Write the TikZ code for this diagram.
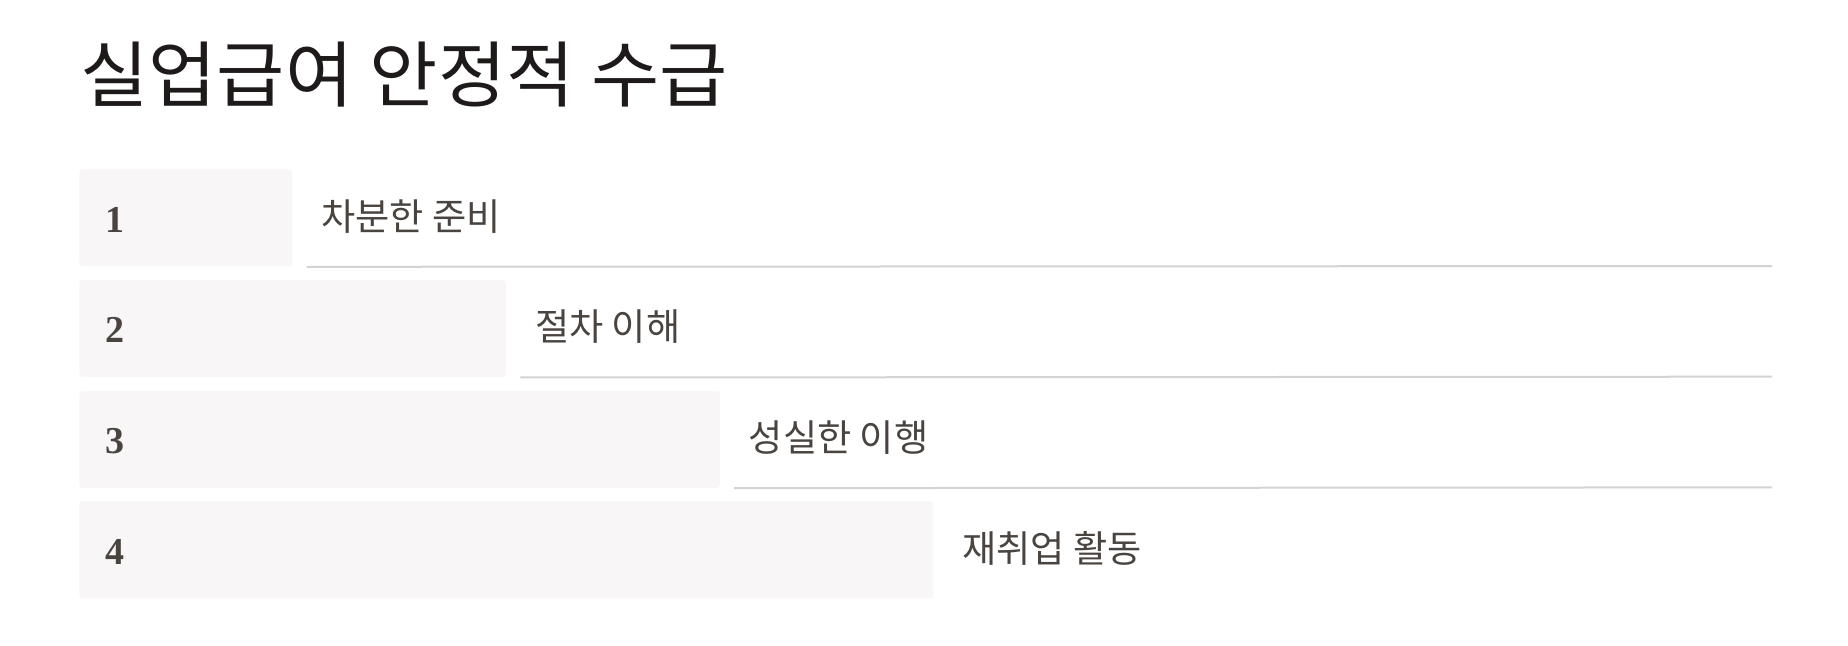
\documentclass[tikz,border=0pt]{standalone}
\usepackage{fontspec}
\setmainfont{Liberation Serif}
\newfontfamily\kr{Noto Sans CJK KR}
\newfontfamily\krtitle[FakeStretch=1.03]{Noto Sans CJK KR}
\definecolor{boxfill}{HTML}{F8F6F6}
\definecolor{txt}{HTML}{4A4440}
\definecolor{ttl}{HTML}{1E1A1A}
\definecolor{rule}{HTML}{D3D3D3}
\tikzset{
  stepbox/.style={fill=boxfill, draw=none, rounded corners=1.5pt, inner sep=0pt,
    minimum height=48.5pt, anchor=north west},
  numtxt/.style={anchor=base west, inner sep=0pt, text=txt, font=\fontsize{19}{19}\selectfont\bfseries},
  labtxt/.style={anchor=base west, inner sep=0pt, text=txt, font=\kr\fontsize{18.6}{18.6}\selectfont},
  ruleline/.style={draw=rule, line width=1pt}
}
\begin{document}
\begin{tikzpicture}[x=0.5pt,y=-0.5pt]
\useasboundingbox (0,0) rectangle (1848,645);
\node[anchor=base west, inner sep=0pt, text=ttl, font=\krtitle\fontsize{36}{36}\selectfont] (title) at (80,101) {실업급여 안정적 수급};
\foreach \i/\lab/\bw in {1/차분한 준비/106.5, 2/절차 이해/213.3, 3/성실한 이행/320.2, 4/재취업 활동/427} {
  \pgfmathsetmacro{\ty}{169+110.67*(\i-1)}
  \pgfmathsetmacro{\rgt}{79+2*\bw}
  \node[stepbox, minimum width=\bw pt] (box\i) at (79,\ty) {};
  \node[numtxt] (num\i) at (105,\ty+63) {\i};
  \node[labtxt] (lab\i) at (\rgt+29,\ty+61) {\lab};
}
\foreach \i in {1,2,3} {
  \pgfmathsetmacro{\by}{169+110.67*(\i-1)+97}
  \coordinate (ls\i) at ([xshift=7pt]box\i.south east);
  \coordinate (le\i) at (1772,\by);
  \draw[ruleline] (ls\i) -- (le\i);
}
\end{tikzpicture}
\end{document}
